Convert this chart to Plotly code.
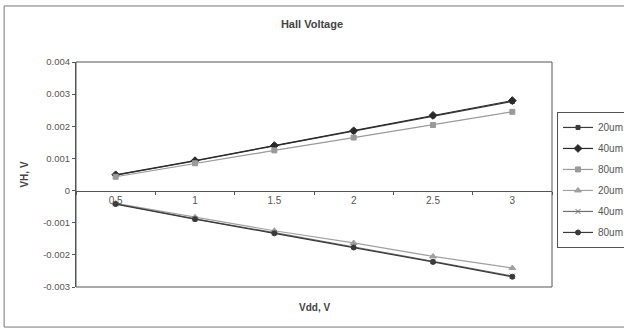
import plotly.graph_objects as go

vdd = ["0.5", "1", "1.5", "2", "2.5", "3"]

pos_20um = [0.00048, 0.00092, 0.00139, 0.00185, 0.00232, 0.00277]
pos_40um = [0.00049, 0.00093, 0.00140, 0.00186, 0.00234, 0.00280]
pos_80um = [0.00043, 0.00085, 0.00125, 0.00165, 0.00204, 0.00245]
neg_20um = [-0.00040, -0.00083, -0.00125, -0.00163, -0.00205, -0.00241]
neg_40um = [-0.00041, -0.00088, -0.00131, -0.00175, -0.00220, -0.00266]
neg_80um = [-0.00042, -0.00089, -0.00133, -0.00177, -0.00222, -0.00268]

y_ticks = [-0.003, -0.002, -0.001, 0, 0.001, 0.002, 0.003, 0.004]
y_tick_labels = ["-0.003", "-0.002", "-0.001", "0", "0.001", "0.002", "0.003", "0.004"]

series = [
    ("20um", pos_20um, "#3a3a3a", "square", 4),
    ("40um", pos_40um, "#2a2a2a", "diamond", 6),
    ("80um", pos_80um, "#9a9a9a", "square", 5),
    ("20um", neg_20um, "#a0a0a0", "triangle-up", 6),
    ("40um", neg_40um, "#707070", "x-thin-open", 5),
    ("80um", neg_80um, "#3a3a3a", "circle", 5),
]

fig = go.Figure()
for i, (name, vals, col, sym, sz) in enumerate(series):
    fig.add_trace(go.Scatter(
        x=vdd, y=vals, name=name, mode="lines+markers", legendgroup=f"g{i}",
        line=dict(color=col, width=1.2),
        marker=dict(symbol=sym, size=sz, color=col, line=dict(color=col, width=1)),
    ))

fig.update_layout(
    width=624, height=329,
    margin=dict(l=76, r=72, t=62, b=42, autoexpand=False),
    paper_bgcolor="white", plot_bgcolor="white",
    font=dict(family="Liberation Sans, Arial, sans-serif", size=9, color="#444"),
    title=dict(text="<b>Hall Voltage</b>", x=0.5, xanchor="center", y=0.927, yanchor="middle",
               font=dict(size=11, color="#444")),
    showlegend=True,
    legend=dict(x=(557 - 76) / 476, xanchor="left", y=0.778, yanchor="top",
                bordercolor="#555", borderwidth=1, bgcolor="white",
                font=dict(size=10, color="#555"), tracegroupgap=2,
                itemwidth=30),
    xaxis=dict(type="category", anchor="free", position=3/7, automargin=False,
               showline=True, linecolor="#555", linewidth=1,
               ticks="outside", ticklen=3, tickcolor="#555", tickson="boundaries",
               showgrid=False, zeroline=False,
               tickfont=dict(size=10, color="#555"), range=[-0.5, 5.5]),
    yaxis=dict(range=[-0.003, 0.004], tickvals=y_ticks, ticktext=y_tick_labels, automargin=False,
               showline=True, linecolor="#555", linewidth=1,
               ticks="outside", ticklen=3, tickcolor="#555",
               showgrid=False, zeroline=False,
               tickfont=dict(size=9.5, color="#555"),
               title=dict(text="<b>VH, V</b>", font=dict(size=10, color="#444"), standoff=12)),
    shapes=[
        dict(type="rect", xref="paper", yref="paper", x0=0, x1=1, y0=0, y1=1,
             line=dict(color="#555", width=1)),
        dict(type="rect", xref="paper", yref="paper", x0=-0.151, x1=1.17, y0=-0.178, y1=1.249,
             line=dict(color="#777", width=1)),
    ],
    annotations=[
        dict(text="<b>Vdd, V</b>", xref="paper", yref="paper", x=0.5, y=-0.089,
             showarrow=False, font=dict(size=10, color="#444"), xanchor="center", yanchor="middle"),
    ],
)

fig.write_html("out.html", config={"displayModeBar": False},
               post_script="document.body.style.margin='0';document.body.style.overflow='hidden';")
